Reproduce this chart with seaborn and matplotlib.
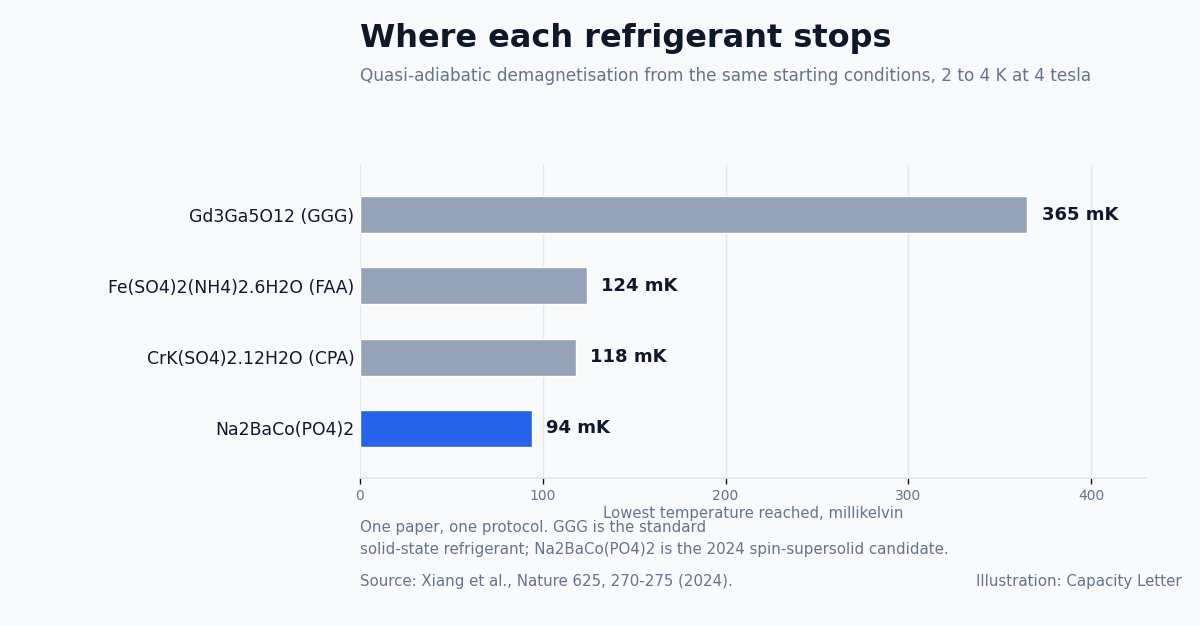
import os
import matplotlib
matplotlib.use('Agg')
import matplotlib.pyplot as plt
from matplotlib.font_manager import FontProperties
import pandas as pd
import seaborn as sns

# Chart data
materials = ['Gd3Ga5O12 (GGG)', 'Fe(SO4)2(NH4)2.6H2O (FAA)',
             'CrK(SO4)2.12H2O (CPA)', 'Na2BaCo(PO4)2']
lowest_mk = [365, 124, 118, 94]
highlight = ['other', 'other', 'other', 'new']
x_ticks = [0, 100, 200, 300, 400]

bg = '#f8fafc'
ink = '#0f172a'
muted = '#64748b'
grid = '#e2e8f0'
palette = {'other': '#94a3b8', 'new': '#2563eb'}

# use matplotlib's bundled DejaVu files directly
ttf_dir = os.path.join(matplotlib.get_data_path(), 'fonts', 'ttf')


def fp(size, bold=False):
    name = 'DejaVuSans-Bold.ttf' if bold else 'DejaVuSans.ttf'
    return FontProperties(fname=os.path.join(ttf_dir, name), size=size)


df = pd.DataFrame({'material': materials, 'mk': lowest_mk, 'group': highlight})

sns.set_theme(style='white', rc={'xtick.bottom': True,
                                 'xtick.major.size': 4,
                                 'xtick.major.width': 1,
                                 'xtick.color': ink})

fig = plt.figure(figsize=(12, 6.26), dpi=100, facecolor=bg)
ax = fig.add_axes([0.3, 0.2364, 0.655, 0.5])
ax.set_facecolor(bg)

sns.barplot(data=df, x='mk', y='material', hue='group', palette=palette,
            orient='h', width=0.52, legend=False, dodge=False, ax=ax,
            saturation=1)

# Value labels at bar ends
for i, v in enumerate(lowest_mk):
    ax.text(v + 8, i, f'{v} mK', va='center', ha='left',
            fontproperties=fp(13, True), color=ink)

ax.set_xlim(0, 430)
ax.set_ylim(3.7, -0.7)
ax.set_xticks(x_ticks)
ax.set_xticklabels([str(t) for t in x_ticks], fontproperties=fp(10),
                   color=muted)
ax.set_yticks(range(len(materials)))
ax.set_yticklabels(materials, fontproperties=fp(12.4), color=ink)
ax.tick_params(axis='x', bottom=True, length=4, width=1, color=ink, pad=4)
ax.tick_params(axis='y', left=False, length=0, pad=4)
ax.set_ylabel('')
ax.set_xlabel('Lowest temperature reached, millikelvin',
              fontproperties=fp(10.7), color=muted, labelpad=2)
ax.grid(axis='x', color=grid, linewidth=1)
ax.set_axisbelow(True)
for s in ['top', 'right', 'left']:
    ax.spines[s].set_visible(False)
ax.spines['bottom'].set_color(grid)

# Titles and notes
fig.text(0.3, 0.925, 'Where each refrigerant stops', fontproperties=fp(23, True),
         color=ink, ha='left', va='baseline')
fig.text(0.3, 0.87, 'Quasi-adiabatic demagnetisation from the same starting '
         'conditions, 2 to 4 K at 4 tesla', fontproperties=fp(12.2),
         color=muted, ha='left', va='baseline')
fig.text(0.3, 0.15, 'One paper, one protocol. GGG is the standard',
         fontproperties=fp(10.8), color=muted, ha='left', va='baseline')
fig.text(0.3, 0.115, 'solid-state refrigerant; Na2BaCo(PO4)2 is the 2024 '
         'spin-supersolid candidate.', fontproperties=fp(10.8), color=muted,
         ha='left', va='baseline')
fig.text(0.3, 0.064, 'Source: Xiang et al., Nature 625, 270-275 (2024).',
         fontproperties=fp(10.8), color=muted, ha='left', va='baseline')
fig.text(0.985, 0.064, 'Illustration: Capacity Letter', fontproperties=fp(10.8),
         color=muted, ha='right', va='baseline')

fig.savefig('out.png', dpi=100, facecolor=bg)
